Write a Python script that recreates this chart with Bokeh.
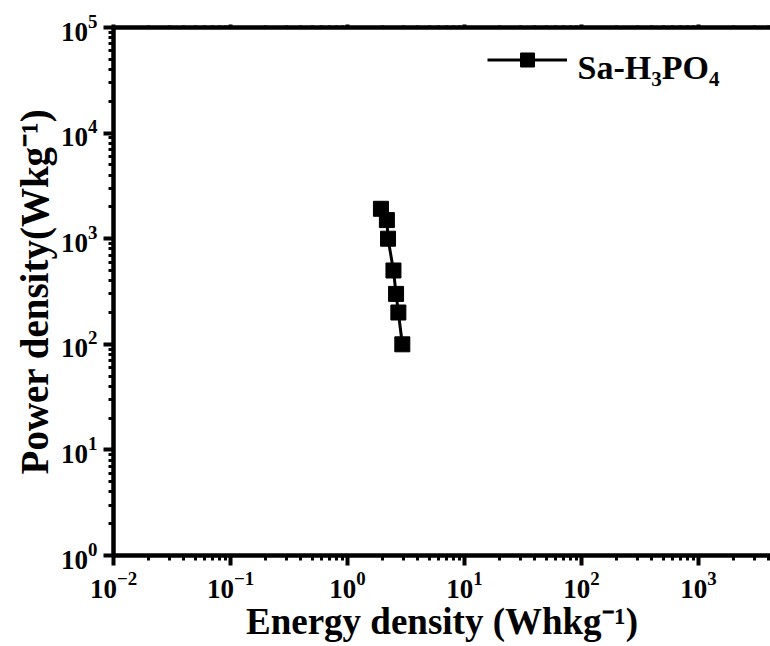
from bokeh.embed import file_html
from bokeh.models import (FixedTicker, Label, Legend, LegendItem, LogAxis,
                          Range1d)
from bokeh.plotting import figure
from bokeh.resources import INLINE

# Ragone data: energy density (Wh/kg) vs power density (W/kg)
energy = [2.94, 2.72, 2.60, 2.47, 2.22, 2.17, 1.93]
power = [100, 200, 300, 500, 1000, 1500, 1920]

x_exponents = [-2, -1, 0, 1, 2, 3]
y_exponents = [0, 1, 2, 3, 4, 5]

x_title = "Energy density (Whkg\u207b\u00b9)"
y_title = "Power density(Wkg\u207b\u00b9)"

FONT = "Liberation Serif"
X_START, X_END = 1e-2, 10 ** 3.615
Y_START, Y_END = 1.0, 1e5

# advance widths (per 1000 em) of the bold serif face, used to lay out
# the legend text runs with subscripts
ADV = {'S': 556, 'a': 500, '-': 333, 'H': 778, '3': 500, 'P': 611, 'O': 778,
       '4': 500}


def text_width(s, size):
    return sum(ADV.get(c, 500) for c in s) * size / 1000.0


p = figure(frame_width=657, frame_height=528,
           x_axis_type="log", y_axis_type="log",
           x_range=Range1d(X_START, X_END), y_range=Range1d(Y_START, Y_END),
           output_backend="svg", toolbar_location=None,
           min_border_left=113, min_border_right=0,
           min_border_top=27, min_border_bottom=86)
p.grid.visible = False
p.outline_line_color = None
p.background_fill_color = "white"
p.border_fill_color = "white"


def decade_ticker(exps):
    majors = [10.0 ** k for k in exps]
    minors = [m * 10.0 ** k for k in exps[:-1] for m in range(2, 10)]
    return FixedTicker(ticks=majors, minor_ticks=minors)


def style_axis(ax, major_out, minor_out):
    ax.axis_line_width = 4.5
    ax.axis_line_color = "black"
    ax.major_tick_line_width = 4
    ax.major_tick_line_color = "black"
    ax.minor_tick_line_width = 3
    ax.minor_tick_line_color = "black"
    ax.major_tick_in = 0
    ax.minor_tick_in = 0
    ax.major_tick_out = major_out
    ax.minor_tick_out = minor_out
    ax.major_label_text_font = FONT
    ax.major_label_text_font_style = "bold"
    ax.major_label_text_font_size = "27px"
    ax.major_label_text_color = "black"
    ax.axis_label_text_font = FONT
    ax.axis_label_text_font_style = "bold"
    ax.axis_label_text_color = "black"


x_ext = x_exponents + [4]
xa, ya = p.xaxis[0], p.yaxis[0]
xa.ticker = decade_ticker(x_ext)
ya.ticker = decade_ticker(y_exponents)
style_axis(xa, 10, 5)
style_axis(ya, 10, 5)

xa.axis_label = x_title
xa.axis_label_text_font_size = "37px"
xa.major_label_standoff = 6
xa.axis_label_standoff = 0

ya.axis_label = y_title
ya.axis_label_text_font_size = "39px"
ya.major_label_standoff = 6
ya.axis_label_standoff = 2

top_axis = LogAxis(ticker=decade_ticker(x_ext))
style_axis(top_axis, 3, 2)
top_axis.major_label_text_font_size = "2px"
top_axis.major_label_text_alpha = 0
top_axis.major_label_standoff = 0
p.add_layout(top_axis, "above")

# the series
line = p.line(energy, power, line_width=3, line_color="black")
pts = p.scatter(energy, power, marker="square", size=15,
                fill_color="black", line_color="black")

legend = Legend(items=[LegendItem(label="_", renderers=[line, pts])],
                location=(374, 478), glyph_width=80, glyph_height=35,
                padding=0, margin=0, spacing=0, label_standoff=0,
                label_text_font_size="4px", label_text_alpha=0,
                border_line_color=None, background_fill_alpha=0)
p.add_layout(legend)

# legend text with subscripts, placed beside the legend glyph
runs = [("Sa-H", 34, 0), ("3", 21, -11), ("PO", 34, 0), ("4", 21, -11)]
cx = 464
for txt, size, rise in runs:
    p.add_layout(Label(x=X_START, y=Y_START, x_units="data", y_units="data",
                       x_offset=cx, y_offset=488 + rise, text=txt,
                       text_font=FONT, text_font_style="bold",
                       text_font_size=f"{size}px", text_color="black",
                       text_align="left", text_baseline="alphabetic"))
    cx += text_width(txt, size)

open("out.html", "w").write(file_html(p, INLINE))
